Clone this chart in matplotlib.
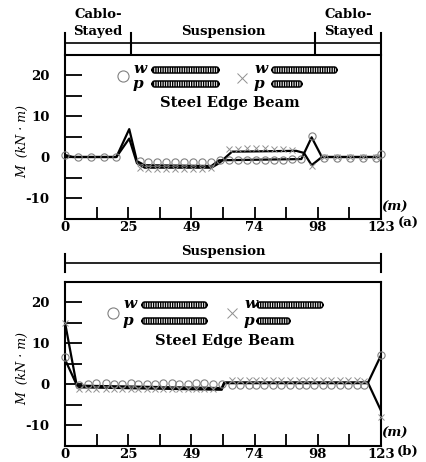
import matplotlib
matplotlib.use("Agg")
import matplotlib.pyplot as plt
import matplotlib.transforms as mtransforms
from matplotlib.patches import FancyBboxPatch
from matplotlib.lines import Line2D

plt.rcParams['font.family'] = 'DejaVu Serif'
plt.rcParams['font.weight'] = 'bold'

# ---- panel (a): bridge with cable-stayed side spans ----
a_line1_x = [0, 3, 20, 25, 28, 31, 57, 60, 92, 96, 100, 123]
a_line1_y = [0.5, 0, 0, 6.8, -1, -2.0, -2.2, -0.8, -0.5, 4.8, 0, 0]
a_line2_x = [0, 20, 25, 28, 31, 57, 60, 65, 90, 93, 96, 100, 123]
a_line2_y = [0, 0, 4.5, -1.5, -2.6, -2.6, -1.5, 1.3, 1.5, 1.0, -2.0, 0, 0]
a_circ_x = [0, 5, 10, 15, 20, 29, 32.5, 36, 39.5, 43, 46.5, 50, 53.5, 57, 60.5, 64,
            67.5, 71, 74.5, 78, 81.5, 85, 88.5, 92, 96, 101, 106, 111, 116, 121, 123]
a_circ_y = [0.5, 0, 0, 0, 0, -1.0, -1.2, -1.3, -1.3, -1.3, -1.3, -1.3, -1.2, -1.2, -0.8, -0.8,
            -0.8, -0.8, -0.8, -0.8, -0.7, -0.7, -0.6, -0.5, 5.2, -0.2, -0.2, -0.3, -0.3, -0.3, 0.8]
a_cross_x = [29, 32.5, 36, 39.5, 43, 46.5, 50, 53.5, 57, 64, 67.5, 71, 74.5, 78,
             81.5, 85, 88.5, 96, 101, 106, 111, 116, 121]
a_cross_y = [-2.8, -3.0, -3.0, -3.0, -3.0, -3.0, -3.0, -2.9, -2.6, 2.0, 2.0, 2.1, 2.1, 2.1,
             2.0, 2.0, 1.8, -2.2, 0, 0, 0, 0, 0]

# ---- panel (b): suspension only ----
b_line1_x = [0, 4.7, 61, 62, 118, 123]
b_line1_y = [6.0, -0.4, -1.0, 0.4, 0.4, 7.0]
b_line2_x = [0, 4.7, 61, 62, 118, 123]
b_line2_y = [15.0, -0.8, -1.4, 0.2, 0.2, -6.5]
b_circ_x = [0, 5.5, 9, 12, 16, 19, 22, 25.5, 28.5, 32, 35, 38, 41.5, 44.5, 48, 51, 54, 57.5,
            61, 65, 68, 71.5, 74.5, 77.5, 81, 84, 87.5, 91, 94, 97, 100.5, 103.5, 107, 110, 113.5, 116.5, 123]
b_circ_y = [6.6, -0.2, 0.1, 0.2, 0.2, 0.1, 0.1, 0.2, 0.1, 0.1, 0.1, 0.2, 0.2, 0.1, 0.1, 0.2, 0.2, 0.1,
            0.1, -0.2, -0.2, -0.2, -0.2, -0.2, -0.2, -0.2, -0.2, -0.2, -0.2, -0.2, -0.2, -0.2, -0.2, -0.2, -0.2, -0.2, 7.0]
b_cross_x = [0, 5.5, 9, 12, 16, 19, 22, 25.5, 28.5, 32, 35, 38, 41.5, 44.5, 48, 51, 54, 57.5,
             65, 68, 71.5, 74.5, 77.5, 81, 84, 87.5, 91, 94, 97, 100.5, 103.5, 107, 110, 113.5, 116.5, 123]
b_cross_y = [15.0, -1.2, -1.2, -1.2, -1.3, -1.3, -1.3, -1.3, -1.3, -1.3, -1.3, -1.3, -1.3, -1.3, -1.3, -1.3, -1.3, -1.3,
             1.0, 1.0, 1.0, 1.0, 1.0, 1.0, 1.0, 1.0, 1.0, 1.0, 1.0, 1.0, 1.0, 1.0, 1.0, 1.0, 0.8, -8.0]

xticks = [0, 12.3, 24.6, 36.9, 49.2, 61.5, 73.8, 86.1, 98.4, 110.7, 123]
xlabels = ['0', '', '25', '', '49', '', '74', '', '98', '', '123']
yticks = [-10, -5, 0, 5, 10, 15, 20]
ylabels = ['-10', '', '0', '', '10', '', '20']

W, H = 427, 462
fig = plt.figure(figsize=(W / 100, H / 100), dpi=100)


def fx(x):
    return x / W


def fy(y):
    return 1 - y / H


def setup(ax):
    ax.set_xlim(0, 123)
    ax.set_ylim(-15, 25)
    ax.set_xticks(xticks)
    ax.set_xticklabels(xlabels)
    ax.set_yticks(yticks)
    ax.set_yticklabels(ylabels)
    ax.tick_params(axis='x', direction='in', length=9, width=1.3, pad=1.5, labelsize=9.5)
    ax.tick_params(axis='y', direction='in', length=12, width=1.3, pad=11, labelsize=9.5)
    for s in ax.spines.values():
        s.set_linewidth(1.5)
    ax.set_ylabel('M  (kN · m)', fontstyle='italic', fontsize=9)
    ax.yaxis.set_label_coords(-0.112, 0.47)


def draw(ax, l1x, l1y, l2x, l2y, cx, cy, xx, xy):
    ax.plot(l1x, l1y, color='black', lw=1.6, zorder=3)
    ax.plot(l2x, l2y, color='black', lw=1.6, zorder=3)
    ax.plot(cx, cy, 'o', mfc='none', mec='#808080', mew=0.8, ms=5.2, zorder=4, clip_on=False)
    ax.plot(xx, xy, 'x', color='#909090', mew=0.7, ms=4.5, zorder=4, clip_on=False)


def legend(ax, cpos, xpos, wy, py, bars, title_xy):
    # circle / cross symbols plus the w, p load bars, in figure pixels
    fig.add_artist(Line2D([fx(cpos[0])], [fy(cpos[1])], marker='o', mfc='none', mec='#808080',
                          mew=0.8, ms=8, transform=fig.transFigure))
    fig.add_artist(Line2D([fx(xpos[0])], [fy(xpos[1])], marker='x', color='#909090',
                          mew=0.7, ms=7, transform=fig.transFigure))
    for (tx, y, lab) in [(cpos[0] + 17, wy - 1, 'w'), (cpos[0] + 15, py, 'p'),
                         (xpos[0] + 19, wy - 1, 'w'), (xpos[0] + 17, py, 'p')]:
        fig.text(fx(tx), fy(y), lab, fontsize=11, fontstyle='italic', ha='center', va='center')
    for (x0, x1, y) in bars:
        fig.add_artist(FancyBboxPatch((fx(x0), fy(y + 3)), fx(x1 - x0), 6 / H,
                                      boxstyle='round,pad=0,rounding_size=0.007',
                                      fc='white', ec='black', lw=1.1, hatch='|||||||',
                                      transform=fig.transFigure))
    fig.text(fx(title_xy[0]), fy(title_xy[1]), 'Steel Edge Beam', fontsize=10.5,
             ha='center', va='center', fontweight='bold')


def span(ax, y, xs, h):
    tr = mtransforms.blended_transform_factory(ax.transData, fig.transFigure)
    fig.add_artist(Line2D([0, 123], [fy(y), fy(y)], color='black', lw=1.2, transform=tr))
    for x in xs:
        fig.add_artist(Line2D([x, x], [fy(y - h), fy(y + h)], color='black', lw=1.5, transform=tr))


# panel (a)
ax1 = fig.add_axes([fx(65), fy(218.5), fx(316), 164 / H])
setup(ax1)
draw(ax1, a_line1_x, a_line1_y, a_line2_x, a_line2_y, a_circ_x, a_circ_y, a_cross_x, a_cross_y)
span(ax1, 43, [0, 25.5, 97.5, 123], 10)
tr1 = mtransforms.blended_transform_factory(ax1.transData, fig.transFigure)
for xc in [12.8, 110.3]:
    ax1.text(xc, fy(15), 'Cablo-', transform=tr1, ha='center', va='center', fontsize=9.5)
    ax1.text(xc, fy(31), 'Stayed', transform=tr1, ha='center', va='center', fontsize=9.5)
ax1.text(61.5, fy(31), 'Suspension', transform=tr1, ha='center', va='center', fontsize=9.5)
legend(ax1, (123, 76), (242, 78), 70, 84,
       [(152, 219, 70), (152, 219, 84), (272, 337, 70), (272, 302, 84)], (230, 103))
fig.text(fx(394), fy(207), '(m)', fontsize=9.5, fontstyle='italic', ha='center', va='center')
fig.text(fx(408), fy(223.5), '(a)', fontsize=9.5, ha='center', va='center')

# panel (b)
ax2 = fig.add_axes([fx(65), fy(445.5), fx(316), 164 / H])
setup(ax2)
draw(ax2, b_line1_x, b_line1_y, b_line2_x, b_line2_y, b_circ_x, b_circ_y, b_cross_x, b_cross_y)
span(ax2, 263, [0, 123], 9)
tr2 = mtransforms.blended_transform_factory(ax2.transData, fig.transFigure)
ax2.text(61.5, fy(252), 'Suspension', transform=tr2, ha='center', va='center', fontsize=9.5)
legend(ax2, (113, 313), (232, 313), 305, 321,
       [(142, 207, 305), (142, 207, 321), (257, 323, 305), (257, 290, 321)], (225, 341))
fig.text(fx(394), fy(433), '(m)', fontsize=9.5, fontstyle='italic', ha='center', va='center')
fig.text(fx(408), fy(451), '(b)', fontsize=9.5, ha='center', va='center')

fig.savefig('out.png', dpi=100)
